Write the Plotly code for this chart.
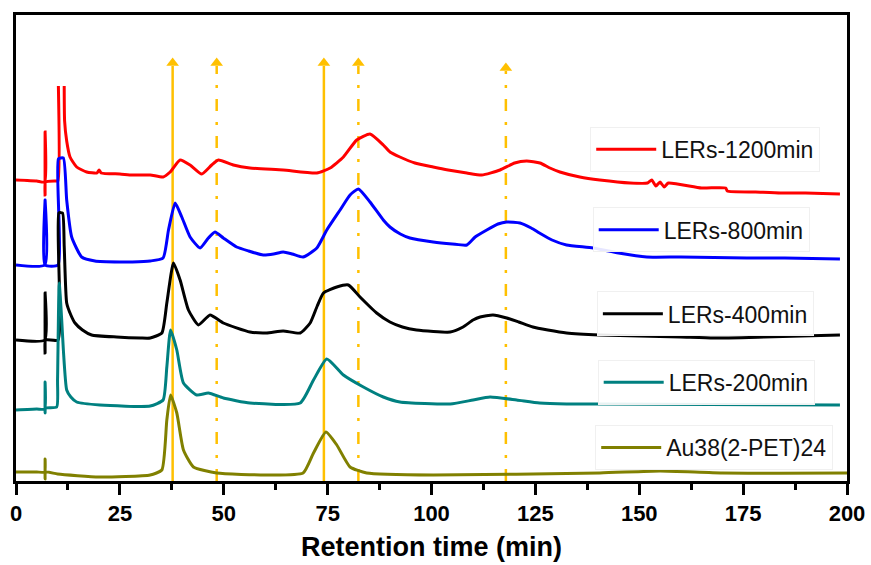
import plotly.graph_objects as go

# ---------------- data (retention time in min, offset signal in a.u.) ----------------
red_x = [0, 5, 6.9, 7.0, 7.0, 7.1, 9.5, 10.1, 10.2, None, 11.6, 11.7, 12.2, 13, 14.6, 17, 19.5, 20, 20.5, 25, 28,
         32.3, 35.4, 37.1, 39.5, 41.9, 44.7, 47.1, 48.7, 52.3, 56.3, 64.3, 72.4, 75.6, 78.8, 82, 85.2, 88.4, 90,
         92.4, 96, 100.4, 104, 108.5, 112.1, 116.5, 120, 122.9, 126.1, 128.5, 130.9, 135.7, 140.5, 147.8,
         152, 153, 154, 155, 156, 157, 165, 170.8, 171.2, 178, 184, 190, 198.3]
red_y = [301, 300, 299, 349, 286, 299, 300, 300, 395, None, 395, 360, 340, 324, 314, 309, 308, 311, 308, 307, 306,
         306, 304, 309, 321, 316, 307, 316, 321, 316, 313, 311, 308, 313, 324, 341, 347, 336, 329,
         324, 318, 314, 311, 308, 306, 311, 318, 320, 318, 313, 309, 304, 301, 298,
         298, 301, 295, 299, 294, 298, 293, 293, 290, 289, 288, 288, 287]

blue_x = [0, 6.9, 7.0, 7.0, 10.1, 10.2, 11.4, 12.2, 13.4, 15.8, 19, 25, 28, 32.3, 35.4, 36.7, 38.3, 39.9, 41.9, 44.3,
          46.3, 47.9, 49.9, 53.1, 56, 59.5, 62, 64.3, 66.5, 69.1, 72.4, 74.8, 78, 80.4, 82.4, 85.2, 88.4, 90,
          92.5, 94.8, 100.4, 105, 108.5, 110.5, 113.3, 116, 118.1, 121.3, 124, 126, 129, 132.5, 138.9, 145,
          151.8, 160, 175.9, 185, 198.3]
blue_y = [216, 216, 281, 216, 216, 322, 323, 281, 244, 224, 220, 219, 219, 220, 223, 251, 278, 264, 244, 233,
          243, 249, 243, 234, 230, 226, 227, 229, 227, 224, 233, 251, 271, 286, 292, 279, 261, 254,
          247, 243, 239, 237, 236, 244, 251, 257, 259, 258, 253, 248, 241, 236, 233, 228,
          224, 224, 223, 223, 222]

black_x = [0, 6.9, 7.0, 7.0, 7.1, 10.1, 10.3, 11.2, 11.6, 12.2, 13.2, 14.2, 16, 18.2, 24.2, 30, 32.3, 35.1, 36.3,
           37.9, 39.5, 41.5, 43.9, 46.7, 49.9, 56.3, 60.3, 64.3, 68.4, 70.8, 72.5, 74, 77.2, 80, 82.8, 86.8, 90,
           93, 96.4, 104.5, 107.6, 110, 111.7, 114.8, 118.1, 121, 124.4, 128, 132.5, 140.5, 150, 160, 167.9, 180,
           198.3]
black_y = [141, 141, 188, 128, 141, 141, 268, 268, 235, 178, 166, 158, 151, 146, 144, 143, 143, 148, 178,
           218, 201, 171, 156, 166, 158, 149, 148, 150, 148, 158, 175, 188, 194, 196, 184, 168, 159,
           154, 151, 149, 154, 161, 164, 166, 163, 159, 154, 151, 148, 146, 145, 144, 143, 144,
           146]

teal_x = [0, 5, 6.9, 7.0, 7.0, 7.1, 9.8, 10.0, 10.4, 11.0, 11.4, 12.2, 13.2, 14.6, 20.2, 32.3, 35.4, 36.3, 37.2,
          38.7, 40.3, 43.5, 46.3, 49.9, 56.3, 68.4, 71.6, 74.8, 78.8, 83.6, 88.4, 92.4, 104.5, 110, 114.1, 120.5,
          126, 132.5, 140.5, 198.3]
teal_y = [71, 72, 72, 99, 68, 73, 74, 101, 198, 161, 131, 91, 84, 79, 76, 75, 81, 114, 151,
          131, 98, 86, 88, 83, 78, 78, 101, 122, 106, 94, 84, 79, 77, 81, 84, 81,
          78, 77, 77, 76]

olive_x = [0, 5, 6.9, 7.0, 7.0, 7.1, 10, 20, 32.3, 35.1, 36.3, 37.2, 38.7, 40.3, 42.7, 48.3, 60.3, 69.1, 71.6,
           74.6, 77.2, 80.4, 84.4, 100.4, 140.5, 155, 170, 200]
olive_y = [9, 9, 9, 22, 2, 9, 7, 4, 6, 11, 61, 86, 68, 31, 14, 8, 6, 8, 28,
           49, 36, 14, 8, 6, 8, 10, 8, 8]

series_names = ["LERs-1200min", "LERs-800min", "LERs-400min", "LERs-200min", "Au38(2-PET)24"]
series_x = [red_x, blue_x, black_x, teal_x, olive_x]
series_y = [red_y, blue_y, black_y, teal_y, olive_y]
series_colors = ["#FF0000", "#0000FF", "#000000", "#008080", "#808000"]

# marker lines (peak retention times) with arrow heads
arrow_x = [37.7, 48.3, 74.1, 82.4, 117.9]
arrow_top = [423, 423, 423, 423, 418]
arrow_dash = ["solid", "12px,11px,3px,11px", "solid", "12px,11px,3px,11px", "12px,11px,3px,11px"]

tick_vals = [0, 25, 50, 75, 100, 125, 150, 175, 200]

# ---------------- figure ----------------
fig = go.Figure()
ARROW_C = "#FFC000"
for ax, at, ds in zip(arrow_x, arrow_top, arrow_dash):
    fig.add_trace(go.Scatter(x=[ax, ax], y=[0, at - 8], mode="lines",
                             line=dict(color=ARROW_C, width=2.5, dash=ds),
                             showlegend=False, hoverinfo="skip"))
    fig.add_trace(go.Scatter(x=[ax], y=[at - 5], mode="markers",
                             marker=dict(symbol="triangle-up", size=11, color=ARROW_C),
                             showlegend=False, hoverinfo="skip"))

legend_ids = ["legend", "legend2", "legend3", "legend4", "legend5"]
for name, xs, ys, c, lg in zip(series_names, series_x, series_y, series_colors, legend_ids):
    fig.add_trace(go.Scatter(x=xs, y=ys, mode="lines", name=name, legend=lg, connectgaps=False,
                             line=dict(color=c, width=3, shape="spline", smoothing=0.5)))

# legend positions (paper coordinates)
leg_pos = [(0.691, 0.712), (0.694, 0.539), (0.699, 0.359), (0.700, 0.212), (0.697, 0.072)]
leg_common = dict(font=dict(family="Liberation Sans, Arial", size=23, color="#111"),
                  bgcolor="rgba(255,255,255,0.9)", bordercolor="#f0f0f0", borderwidth=1,
                  xanchor="left", yanchor="middle", itemwidth=60)
layout_legends = {}
for lg, (lx, ly) in zip(legend_ids, leg_pos):
    layout_legends[lg] = dict(x=lx, y=ly, **leg_common)

fig.update_layout(
    width=871, height=565,
    margin=dict(l=16, r=24, t=15, b=84, autoexpand=False),
    paper_bgcolor="white", plot_bgcolor="white",
    **layout_legends,
)
fig.update_xaxes(range=[0, 200], tickvals=tick_vals, ticks="outside", ticklen=11, tickwidth=2.5,
                 tickcolor="black", showline=True, linewidth=3, linecolor="black", mirror=True,
                 showgrid=False, zeroline=False, automargin=False,
                 tickfont=dict(family="Liberation Sans, Arial", size=22, color="black", weight="bold"),
                 minor=dict(dtick=12.5, tick0=0, ticks="outside", ticklen=6, tickwidth=2.5, tickcolor="black"),
                 title=dict(text="Retention time (min)", standoff=12,
                            font=dict(family="Liberation Sans, Arial", size=27, color="black", weight="bold")))
fig.update_yaxes(range=[0, 466], showticklabels=False, ticks="", showline=True, linewidth=3,
                 linecolor="black", mirror=True, showgrid=False, zeroline=False, automargin=False)

fig.write_html("out.html", config={"displayModeBar": False},
               post_script="document.body.style.margin='0';document.body.style.overflow='hidden';")
